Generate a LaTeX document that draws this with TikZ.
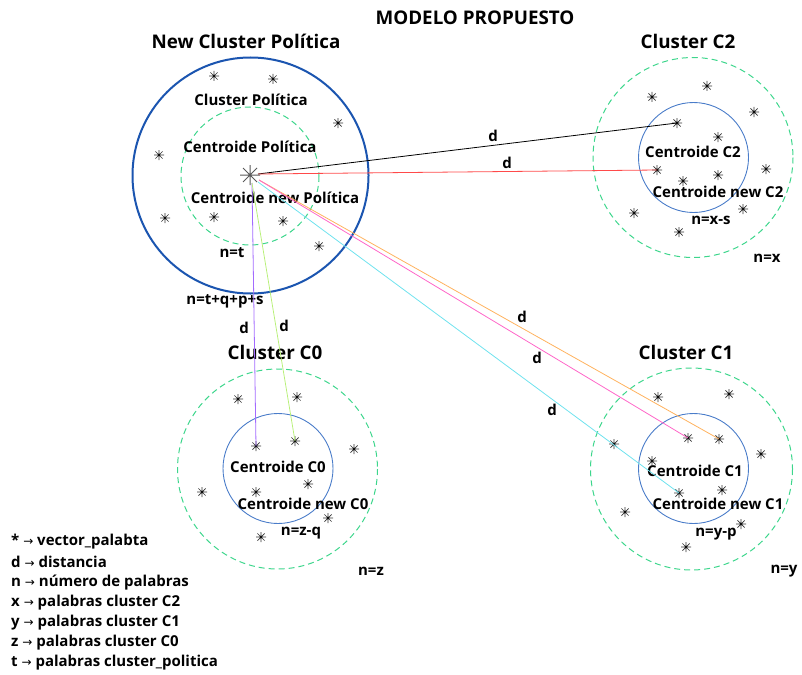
\documentclass[tikz,border=0pt]{standalone}
\usepackage{fontspec}
\setmainfont{Open Sans}[BoldFont={* Bold}]
\newfontfamily\arrowfont{DejaVu Sans}
\usetikzlibrary{calc}
\definecolor{bigblue}{HTML}{1B55B0}
\definecolor{midblue}{HTML}{4A7CC9}
\definecolor{dgreen}{HTML}{3DD68C}
\definecolor{lred}{HTML}{FF4A4A}
\definecolor{lpurple}{HTML}{A36BFF}
\definecolor{lgreen}{HTML}{B9F07A}
\definecolor{lorange}{HTML}{FFB25E}
\definecolor{lpink}{HTML}{FF66C8}
\definecolor{lcyan}{HTML}{6FE2EE}
\tikzset{
  title/.style={font=\fontsize{18.8}{20}\selectfont\bfseries, inner sep=0pt},
  lbl/.style={font=\fontsize{15}{17}\selectfont\bfseries, inner sep=0pt},
  legend/.style={font=\fontsize{15}{17}\selectfont\bfseries, inner sep=0pt, anchor=west},
  outerring/.style={draw=dgreen, line width=1pt, dash pattern=on 6pt off 4pt},
  innerring/.style={draw=midblue, line width=0.9pt},
  dist/.style={line width=0.8pt},
  ast/.pic={
    \draw[line width=0.7pt, black!80] (-5,0) -- (5,0) (0,-5) -- (0,5)
      (-3.6,-3.6) -- (3.6,3.6) (-3.6,3.6) -- (3.6,-3.6);
    \fill[black] (0,0) circle (1.1pt);
  },
  bigast/.pic={
    \draw[line width=1pt, black!65] (-10,0) -- (10,0) (0,-10) -- (0,10)
      (-7,-7) -- (7,7) (-7,7) -- (7,-7);
  }
}
\begin{document}
\begin{tikzpicture}[x=1pt,y=-1pt]
\useasboundingbox (0,0) rectangle (802,674);

\node[title] (main) at (475,18) {MODELO PROPUESTO};

% ---- new political cluster ----
\node[title] (tpol) at (246,41) {New Cluster Política};
\draw[bigblue, line width=2pt] (250.5,175.5) circle (118);
\draw[outerring] (250,176) circle (69);
\node[lbl] (lpol) at (251,100) {Cluster Política};
\node[lbl] (cpol) at (250,147) {Centroide Política};
\node[lbl] (cnpol) at (275,198) {Centroide new Política};
\node[lbl] (ntpol) at (232,253) {n=t};
\node[lbl] (nsum) at (225,301) {n=t+q+p+s};
\foreach \p in {(214,76),(273,79),(338,123),(159,155),(165,218),(214,217),(283,221),(319,246)}
  \pic at \p {ast};

% ---- cluster C2 ----
\node[title] (tc2) at (688,41) {Cluster C2};
\draw[outerring] (693,157.5) circle (100);
\draw[innerring] (693.5,157.5) circle (55);
\node[lbl] (cc2) at (693,152) {Centroide C2};
\node[lbl] (cnc2) at (718,192) {Centroide new C2};
\node[lbl] (nxs) at (711,220) {n=x-s};
\node[lbl] (nx) at (767,258) {n=x};
\foreach \p in {(652,97),(707,86),(754,112),(677,123),(718,137),(657,170),(766,169),(683,181),(718,175),(634,213),(743,209),(679,232)}
  \pic at \p {ast};

% ---- cluster C0 ----
\node[title] (tc0) at (275,352) {Cluster C0};
\draw[outerring] (277.5,469) circle (100);
\draw[innerring] (278,468.5) circle (55);
\node[lbl] (cc0) at (278,467) {Centroide C0};
\node[lbl] (cnc0) at (303,504) {Centroide new C0};
\node[lbl] (nzq) at (301,533) {n=z-q};
\node[lbl] (nz) at (371,571) {n=z};
\foreach \p in {(238,399),(297,397),(256,446),(295,441),(354,449),(202,492),(256,492),(308,484),(328,518),(261,537)}
  \pic at \p {ast};

% ---- cluster C1 ----
\node[title] (tc1) at (686,352) {Cluster C1};
\draw[outerring] (691.5,469) circle (101);
\draw[innerring] (693.5,468.5) circle (55);
\node[lbl] (cc1) at (695,471) {Centroide C1};
\node[lbl] (cnc1) at (718,504) {Centroide new C1};
\node[lbl] (nyp) at (716,534) {n=y-p};
\node[lbl] (ny) at (784,571) {n=y};
\foreach \p in {(658,397),(729,394),(614,444),(688,438),(719,439),(761,454),(652,461),(679,493),(722,490),(625,512),(741,524),(686,547)}
  \pic at \p {ast};

% ---- distances from the political centroid ----
\coordinate (pE) at (258,174);
\coordinate (pS) at (252,183);
\coordinate (pSE) at (259,180);
\coordinate (pSSE) at (258,182);
\coordinate (eC2a) at (677,123);
\coordinate (eC2b) at (657,170);
\coordinate (eC0a) at (256,446);
\coordinate (eC0b) at (295,441);
\coordinate (eC1a) at (719,439);
\coordinate (eC1b) at (688,438);
\coordinate (eC1c) at (679,493);
\draw[dist, black] (pE) -- (eC2a);
\draw[dist, lred] (pE) -- (eC2b);
\draw[dist, lpurple] (pS) -- (eC0a);
\draw[dist, lgreen] (pS) -- (eC0b);
\draw[dist, lorange] (pSE) -- (eC1a);
\draw[dist, lpink] (pSE) -- (eC1b);
\draw[dist, lcyan] (pSSE) -- (eC1c);
\pic at (250,175) {bigast};

\node[lbl] (d1) at (493,136) {d};
\node[lbl] (d2) at (507,163) {d};
\node[lbl] (d3) at (244,328) {d};
\node[lbl] (d4) at (284,326) {d};
\node[lbl] (d5) at (522,317) {d};
\node[lbl] (d6) at (537,358) {d};
\node[lbl] (d7) at (552,410) {d};

% ---- legend ----
\newcommand\legarrow{ {\arrowfont\mdseries\fontsize{12}{14}\selectfont →} }
\node[legend] (k1) at (11,542) {*\legarrow vector\_palabta};
\node[legend] (k2) at (11,562) {d\legarrow distancia};
\node[legend] (k3) at (11,583) {n\legarrow número de palabras};
\node[legend] (k4) at (11,603) {x\legarrow palabras cluster C2};
\node[legend] (k5) at (11,623) {y\legarrow palabras cluster C1};
\node[legend] (k6) at (11,643) {z\legarrow palabras cluster C0};
\node[legend] (k7) at (11,663) {t\legarrow palabras cluster\_politica};
\end{tikzpicture}
\end{document}
